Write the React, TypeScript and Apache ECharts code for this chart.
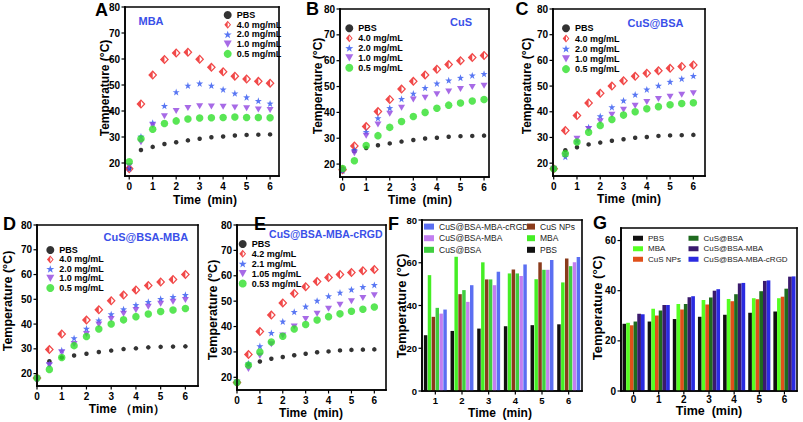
import React, { useEffect, useRef } from 'react';
import * as echarts from 'echarts';

const FONT = 'Liberation Sans, Arial, Helvetica, sans-serif';

const TIMES = [0, 0.5, 1, 1.5, 2, 2.5, 3, 3.5, 4, 4.5, 5, 5.5, 6];
const TIME_TICKS = [0, 1, 2, 3, 4, 5, 6];
const TEMP_TICKS = [20, 30, 40, 50, 60, 70, 80];
const F_TEMP_TICKS = [0, 20, 40, 60, 80];
const G_TEMP_TICKS = [0, 20, 40, 60];

const CONC_LABELS = ['PBS', '4.0 mg/mL', '2.0 mg/mL', '1.0 mg/mL', '0.5 mg/mL'];
const CONC_LABELS_E = ['PBS', '4.2 mg/mL', '2.1 mg/mL', '1.05 mg/mL', '0.53 mg/mL'];

// A: MBA
const A_PBS = [18, 25, 26.2, 27.3, 28, 28.7, 29.3, 29.9, 30.2, 30.6, 30.8, 30.9, 31];
const A_40 = [17.8, 42.7, 53.8, 59.8, 62.3, 62.6, 59.9, 56.8, 55.1, 53.4, 52.3, 51.4, 50.7];
const A_20 = [17.9, 30.2, 35.5, 42, 47.3, 49.8, 50.6, 49.8, 48.3, 46.8, 45.3, 43.9, 42.9];
const A_10 = [18.8, 28, 34.5, 38, 40, 41.2, 41.8, 41.7, 41.6, 41.3, 41.1, 40.6, 40.4];
const A_05 = [20.5, 29.3, 33, 35.2, 36.2, 36.9, 37.3, 37.4, 37.5, 37.7, 37.5, 37.5, 37.4];

// B: CuS
const B_PBS = [18, 25, 26.2, 27.3, 28, 28.7, 29.3, 29.9, 30.2, 30.6, 30.8, 30.9, 31];
const B_40 = [17.8, 27, 34.5, 40.3, 45, 49, 52, 54.5, 56.7, 58.5, 60, 61.2, 62];
const B_20 = [17.5, 25.5, 32.5, 37.8, 41.7, 45.2, 47.3, 49.5, 51.2, 52.4, 53.4, 54.3, 54.9];
const B_10 = [17.5, 24.2, 31, 35.3, 39.5, 41.8, 45, 45.7, 47, 48.1, 49, 49.8, 50.3];
const B_05 = [18.3, 21.3, 27.2, 31, 34.2, 36.5, 38.4, 40, 41.6, 42.8, 43.6, 44.4, 45];

// C: CuS@BSA
const C_PBS = [18, 25, 26.2, 27.3, 28, 28.7, 29.3, 29.9, 30.2, 30.6, 30.8, 30.9, 31];
const C_40 = [17.8, 32.7, 38.5, 43.4, 47.2, 50, 52.1, 53.8, 55, 56, 56.9, 57.6, 58.2];
const C_20 = [17.8, 22.5, 28.5, 34, 38.3, 41.8, 44.4, 46.7, 48.7, 50.2, 51.7, 52.9, 54];
const C_10 = [17.8, 23, 29.5, 33.3, 36.3, 38.8, 40.8, 42.3, 43.8, 45, 45.8, 46.6, 47.2];
const C_05 = [17.8, 23.7, 28.2, 32, 34.7, 37, 38.7, 40, 41.2, 42, 42.7, 43.2, 43.5];

// D: CuS@BSA-MBA
const D_PBS = [18, 25, 26.5, 27.3, 28, 28.7, 29.3, 29.9, 30.2, 30.6, 30.8, 30.9, 31];
const D_40 = [18.2, 29.7, 36, null, 41.6, 45.8, 49.4, 51.7, 53.8, 55.6, 57, 58, 60];
const D_20 = [18, 24, 29.4, 34.3, 38.2, 41.5, 44, 46, 47.7, 49, 50.2, 51, 51.8];
const D_10 = [18, 23.5, 28.5, 32, 36, 39.8, 42, 44.2, 45.7, 47, 48.2, 49, 49.7];
const D_05 = [18.2, 21.7, 26.5, 31.3, 35, 38, 40, 41.7, 43, 44.1, 45.1, 45.7, 46.3];

// E: CuS@BSA-MBA-cRGD
const E_PBS = [18, 25, 26.2, 27.3, 28, 28.7, 29.3, 29.9, 30.2, 30.6, 30.8, 30.9, 31];
const E_42 = [18, 29, 38, 44.5, 49.3, 53, 55.7, 57.7, 59.3, 60.5, 61.3, 62, 62.5];
const E_21 = [18, 25.5, 32.3, 37.5, 42, 45.8, 47.9, 50.2, 52, 53.4, 54.6, 55.6, 56.4];
const E_105 = [18, 23.3, 28.5, 33, 36.5, 40, 43, 45, 47, 48.6, 50, 51.2, 52.3];
const E_053 = [18, 24.8, 30, 33.9, 36.2, 39, 40.8, 42.6, 43.9, 45, 46, 46.8, 47.7];

// F: bar comparison (4.0 mg/mL)
const F_TIMES = ['1', '2', '3', '4', '5', '6'];
const F_PBS = [26.1, 28.1, 29.2, 30.3, 30.8, 31.2];
const F_MBA = [54.2, 62.8, 60.2, 55, 52.3, 50.8];
const F_CUS = [34.7, 45.3, 52.2, 56.9, 60.2, 62];
const F_BSA = [38.9, 47.2, 52.2, 55, 56.7, 58.4];
const F_BSAMBA = [36.2, 41.7, 49.5, 53.8, 56.7, 60.2];
const F_RGD = [38.1, 49.5, 55.8, 59.2, 61.3, 62.7];

// G: bar comparison
const G_TIMES = ['0', '1', '2', '3', '4', '5', '6'];
const G_PBS = [26.8, 27.7, 28.7, 29.6, 30.4, 31.2, 31.7];
const G_MBA = [27.2, 32.8, 34.7, 36.3, 36.7, 37, 37];
const G_CUS = [26.2, 30.1, 32.5, 34.5, 35.8, 36.6, 37.6];
const G_BSA = [27.7, 32.1, 34.7, 37.3, 38.6, 39.8, 40.8];
const G_BSAMBA = [30.8, 34.3, 37.4, 40, 42.9, 43.9, 45.6];
const G_RGD = [30.6, 34.3, 37.8, 40.6, 43.1, 44.1, 45.7];

const BAR_NAMES = ['PBS', 'MBA', 'CuS NPs', 'CuS@BSA', 'CuS@BSA-MBA', 'CuS@BSA-MBA-cRGD'];

const SYM_DIAMOND = 'path://M5,0L10,6L5,12L0,6Z M5,2.3L1.9,6L5,9.7L8.1,6Z M5,2.3L5,9.7L1.9,6Z';
const SYM_STAR = 'path://M0,-10L2.35,-3.24L9.51,-3.09L3.8,1.24L5.88,8.09L0,4L-5.88,8.09L-3.8,1.24L-9.51,-3.09L-2.35,-3.24Z';
const SYM_TRI = 'path://M0,0L10,0L5,9Z';

const SCATTER_STYLE = [
  { symbol: 'circle', size: 4.5, color: '#000000' },
  { symbol: SYM_DIAMOND, size: [9, 9.5], color: '#ee1c1c' },
  { symbol: SYM_STAR, size: 7, color: '#2f55f0' },
  { symbol: SYM_TRI, size: [7, 6], color: '#9145e0' },
  { symbol: 'circle', size: 7.5, color: '#2fe02a' },
];

const F_COLORS = ['#111111', '#45ee25', '#8a3b1b', '#3fcf3f', '#c27ef0', '#5b6ff2'];
const G_COLORS = ['#111111', '#55ff22', '#e0501a', '#1f6b1f', '#3a1a6e', '#2a2ae0'];

const SCATTER_PANELS = [
  { id: 'A', grid: { left: 125, top: 7, width: 154, height: 169 }, xMin: -0.18, xMax: 6.38,
    labels: CONC_LABELS, data: [A_PBS, A_40, A_20, A_10, A_05], legend: { left: 223.7, top: 10.2, lh: 9.7 } },
  { id: 'B', grid: { left: 340, top: 9, width: 149, height: 168 }, xMin: -0.11, xMax: 6.21,
    labels: CONC_LABELS, data: [B_PBS, B_40, B_20, B_10, B_05], legend: { left: 345.3, top: 23.4, lh: 9.85 } },
  { id: 'C', grid: { left: 553, top: 9, width: 152, height: 167 }, xMin: -0.03, xMax: 6.5,
    labels: CONC_LABELS, data: [C_PBS, C_40, C_20, C_10, C_05], legend: { left: 562, top: 23.2, lh: 10.2 } },
  { id: 'D', grid: { left: 37, top: 225, width: 161, height: 161 }, xMin: 0, xMax: 6.51,
    labels: CONC_LABELS, data: [D_PBS, D_40, D_20, D_10, D_05], legend: { left: 46.3, top: 245.2, lh: 9.5 } },
  { id: 'E', grid: { left: 237, top: 225, width: 149, height: 165 }, xMin: 0, xMax: 6.51,
    labels: CONC_LABELS_E, data: [E_PBS, E_42, E_21, E_105, E_053], legend: { left: 238.7, top: 239, lh: 9.9 } },
];

const F_GRID = { left: 422, top: 220, width: 160, height: 171 };
const G_GRID = { left: 621, top: 228, width: 176, height: 163 };

const TEXTS = [
  { t: 'A', x: 101.5, y: 9.5, size: 18, color: '#000' },
  { t: 'B', x: 312.5, y: 9, size: 18, color: '#000' },
  { t: 'C', x: 522, y: 9, size: 18, color: '#000' },
  { t: 'D', x: 9.5, y: 223.5, size: 18, color: '#000' },
  { t: 'E', x: 260, y: 223.5, size: 18, color: '#000' },
  { t: 'F', x: 393.5, y: 224, size: 18, color: '#000' },
  { t: 'G', x: 600, y: 222.5, size: 18, color: '#000' },
  { t: 'MBA', x: 151, y: 20.7, size: 11, color: '#3a50e8' },
  { t: 'CuS', x: 461, y: 21.7, size: 11, color: '#3a50e8' },
  { t: 'CuS@BSA', x: 655.5, y: 23.3, size: 11, color: '#3a50e8' },
  { t: 'CuS@BSA-MBA', x: 145.8, y: 236.7, size: 11, color: '#3a50e8' },
  { t: 'CuS@BSA-MBA-cRGD', x: 325.8, y: 234.3, size: 10.5, color: '#3a50e8' },
  { t: 'Time  (min)', x: 205, y: 200, size: 12, color: '#000' },
  { t: 'Time  (min)', x: 420, y: 200, size: 12, color: '#000' },
  { t: 'Time  (min)', x: 629, y: 198.5, size: 12, color: '#000' },
  { t: 'Time （min）', x: 127, y: 409, size: 12, color: '#000' },
  { t: 'Time  (min)', x: 311, y: 413, size: 12, color: '#000' },
  { t: 'Time  (min)', x: 500, y: 413, size: 12, color: '#000' },
  { t: 'Time  (min)', x: 709, y: 411, size: 12.5, color: '#000' },
];

const YTITLES = [
  { x: 105, y: 88, size: 12 },
  { x: 318, y: 86, size: 12 },
  { x: 527, y: 86, size: 12 },
  { x: 8, y: 301, size: 12.5 },
  { x: 213, y: 310, size: 12.5 },
  { x: 401, y: 306, size: 13 },
  { x: 597, y: 308, size: 13 },
];

const strip = (n: string) => n.split('|')[1];

const LW = 1.6;

// frame of a cartesian grid, drawn as four filled bars by a custom series
function frameSeries(idx: number, anyX: number | string, anyY: number) {
  return {
    type: 'custom', name: `frame${idx}`, xAxisIndex: idx, yAxisIndex: idx, z: 6, clip: false,
    data: [[anyX, anyY]],
    renderItem: (params: any) => {
      const c = params.coordSys;
      const fill = { fill: '#000' };
      return {
        type: 'group',
        children: [
          { type: 'rect', shape: { x: c.x - LW / 2, y: c.y - LW / 2, width: c.width + LW, height: LW }, style: fill },
          { type: 'rect', shape: { x: c.x - LW / 2, y: c.y + c.height - LW / 2, width: c.width + LW, height: LW }, style: fill },
          { type: 'rect', shape: { x: c.x - LW / 2, y: c.y - LW / 2, width: LW, height: c.height + LW }, style: fill },
          { type: 'rect', shape: { x: c.x + c.width - LW / 2, y: c.y - LW / 2, width: LW, height: c.height + LW }, style: fill },
        ],
      };
    },
  };
}

// outward tick marks placed by the axes' own scales
function xTickSeries(idx: number, vals: (number | string)[], anyY: number) {
  return {
    type: 'custom', name: `xt${idx}`, xAxisIndex: idx, yAxisIndex: idx, z: 6, clip: false,
    data: vals.map((v) => [v, anyY]),
    renderItem: (params: any, api: any) => {
      const c = params.coordSys;
      const p = api.coord([api.value(0), api.value(1)]);
      return { type: 'rect', shape: { x: p[0] - 0.6, y: c.y + c.height, width: 1.2, height: 3.5 }, style: { fill: '#000' } };
    },
  };
}

function yTickSeries(idx: number, vals: number[], anyX: number | string) {
  return {
    type: 'custom', name: `yt${idx}`, xAxisIndex: idx, yAxisIndex: idx, z: 6, clip: false,
    data: vals.map((v) => [anyX, v]),
    renderItem: (params: any, api: any) => {
      const c = params.coordSys;
      const p = api.coord([api.value(0), api.value(1)]);
      return { type: 'rect', shape: { x: c.x - 3.5, y: p[1] - 0.6, width: 3.5, height: 1.2 }, style: { fill: '#000' } };
    },
  };
}

function buildOption() {
  const grids: any[] = [];
  const xAxes: any[] = [];
  const yAxes: any[] = [];
  const series: any[] = [];
  const legends: any[] = [];
  const graphics: any[] = [];
  const axisLine = () => ({ show: true, onZero: false, lineStyle: { color: '#000', width: 1.5 } });
  const tickLabel = () => ({ fontSize: 10, fontWeight: 'bold', color: '#000', fontFamily: FONT });

  SCATTER_PANELS.forEach((p, i) => {
    grids.push({ ...p.grid });
    xAxes.push({
      gridIndex: i, type: 'value', min: p.xMin, max: p.xMax,
      axisLine: axisLine(), axisTick: { show: false },
      axisLabel: { ...tickLabel(), customValues: TIME_TICKS, margin: 5 },
      splitLine: { show: false },
    });
    yAxes.push({
      gridIndex: i, type: 'value', min: 15, max: 80,
      axisLine: axisLine(), axisTick: { show: false },
      axisLabel: { ...tickLabel(), customValues: TEMP_TICKS, margin: 5 },
      splitLine: { show: false },
    });
    const names: string[] = [];
    p.data.forEach((vals, k) => {
      const st = SCATTER_STYLE[k];
      const name = `${p.id}|${p.labels[k]}`;
      names.push(name);
      series.push({
        type: 'scatter', name, xAxisIndex: i, yAxisIndex: i,
        symbol: st.symbol, symbolSize: st.size,
        itemStyle: { color: st.color },
        data: TIMES.map((t, j) => [t, vals[j]]).filter((d) => d[1] != null),
      });
    });
    series.push(frameSeries(i, 0, 20));
    series.push(xTickSeries(i, TIME_TICKS, 15));
    series.push(yTickSeries(i, TEMP_TICKS, 0));
    legends.push({
      show: true, orient: 'vertical', left: p.legend.left, top: p.legend.top, padding: 0, itemGap: 0,
      itemWidth: 8, itemHeight: 8, selectedMode: false, formatter: strip,
      textStyle: { fontSize: 9, fontWeight: 'bold', color: '#000', fontFamily: FONT, lineHeight: p.legend.lh },
      data: names,
    });
  });

  // F
  const fi = SCATTER_PANELS.length;
  grids.push({ ...F_GRID });
  xAxes.push({
    gridIndex: fi, type: 'category', data: F_TIMES, axisLine: axisLine(), axisTick: { show: false },
    axisLabel: { ...tickLabel(), fontSize: 9.5, margin: 4 },
  });
  yAxes.push({
    gridIndex: fi, type: 'value', min: 0, max: 80, interval: 20, axisLine: axisLine(), axisTick: { show: false },
    axisLabel: { ...tickLabel(), fontSize: 9.5, margin: 5 },
    splitLine: { show: false },
  });
  const fVals = [F_PBS, F_MBA, F_CUS, F_BSA, F_BSAMBA, F_RGD];
  fVals.forEach((vals, k) => {
    series.push({
      type: 'bar', name: `F|${BAR_NAMES[k]}`, xAxisIndex: fi, yAxisIndex: fi, data: vals,
      barGap: '12%', barCategoryGap: '14%', itemStyle: { color: F_COLORS[k] },
    });
  });
  series.push(frameSeries(fi, F_TIMES[0], 0));
  series.push(xTickSeries(fi, F_TIMES, 0));
  series.push(yTickSeries(fi, F_TEMP_TICKS, F_TIMES[0]));
  const barLegendText = { fontSize: 8.5, color: '#222', fontFamily: FONT, lineHeight: 11.6 };
  legends.push({
    show: true, orient: 'vertical', left: 424, top: 220.8, padding: 0, itemGap: 0, itemWidth: 10, itemHeight: 6,
    icon: 'rect', selectedMode: false, formatter: strip, textStyle: barLegendText,
    data: ['F|CuS@BSA-MBA-cRGD', 'F|CuS@BSA-MBA', 'F|CuS@BSA'],
  });
  legends.push({
    show: true, orient: 'vertical', left: 527, top: 220.8, padding: 0, itemGap: 0, itemWidth: 8, itemHeight: 6,
    icon: 'rect', selectedMode: false, formatter: strip, textStyle: barLegendText,
    data: ['F|CuS NPs', 'F|MBA', 'F|PBS'],
  });

  // G
  const gi = fi + 1;
  grids.push({ ...G_GRID });
  xAxes.push({
    gridIndex: gi, type: 'category', data: G_TIMES, axisLine: axisLine(), axisTick: { show: false },
    axisLabel: { ...tickLabel(), fontSize: 10, margin: 3 },
  });
  yAxes.push({
    gridIndex: gi, type: 'value', min: 0, max: 65, axisLine: axisLine(), axisTick: { show: false },
    axisLabel: { ...tickLabel(), fontSize: 10, margin: 5, customValues: G_TEMP_TICKS },
    splitLine: { show: false },
  });
  const gVals = [G_PBS, G_MBA, G_CUS, G_BSA, G_BSAMBA, G_RGD];
  gVals.forEach((vals, k) => {
    series.push({
      type: 'bar', name: `G|${BAR_NAMES[k]}`, xAxisIndex: gi, yAxisIndex: gi, data: vals,
      barGap: '0%', barCategoryGap: '12%', itemStyle: { color: G_COLORS[k] },
    });
  });
  series.push(frameSeries(gi, G_TIMES[0], 0));
  series.push(xTickSeries(gi, G_TIMES, 0));
  series.push(yTickSeries(gi, G_TEMP_TICKS, G_TIMES[0]));
  const gLegendText = { fontSize: 8, color: '#222', fontFamily: FONT, lineHeight: 10.5 };
  legends.push({
    show: true, orient: 'vertical', left: 633, top: 233, padding: 0, itemGap: 0, itemWidth: 10, itemHeight: 5,
    icon: 'rect', selectedMode: false, formatter: strip, textStyle: gLegendText,
    data: ['G|PBS', 'G|MBA', 'G|CuS NPs'],
  });
  legends.push({
    show: true, orient: 'vertical', left: 688.5, top: 233, padding: 0, itemGap: 0, itemWidth: 10, itemHeight: 5,
    icon: 'rect', selectedMode: false, formatter: strip, textStyle: gLegendText,
    data: ['G|CuS@BSA', 'G|CuS@BSA-MBA', 'G|CuS@BSA-MBA-cRGD'],
  });

  TEXTS.forEach((t) => {
    graphics.push({
      type: 'text', x: t.x, y: t.y, z: 30,
      style: {
        text: t.t, fill: t.color, font: `bold ${t.size}px ${FONT}`,
        textAlign: 'center', textVerticalAlign: 'middle', align: 'center', verticalAlign: 'middle',
      },
    });
  });
  YTITLES.forEach((t) => {
    graphics.push({
      type: 'text', x: t.x, y: t.y, rotation: Math.PI / 2, z: 30,
      style: {
        text: 'Temperature (°C)', fill: '#000', font: `bold ${t.size}px ${FONT}`,
        textAlign: 'center', textVerticalAlign: 'middle', align: 'center', verticalAlign: 'middle',
      },
    });
  });

  return {
    animation: false,
    backgroundColor: '#ffffff',
    grid: grids,
    xAxis: xAxes,
    yAxis: yAxes,
    legend: legends,
    series,
    graphic: graphics,
  };
}

export default function App() {
  const ref = useRef<HTMLDivElement>(null);
  useEffect(() => {
    if (!ref.current) return;
    const chart = echarts.init(ref.current, undefined, { renderer: 'svg' });
    chart.setOption(buildOption() as any);
    return () => chart.dispose();
  }, []);
  return (
    <div
      ref={ref}
      style={{ position: 'fixed', left: 0, top: 0, width: 803, height: 422 }}
    />
  );
}
